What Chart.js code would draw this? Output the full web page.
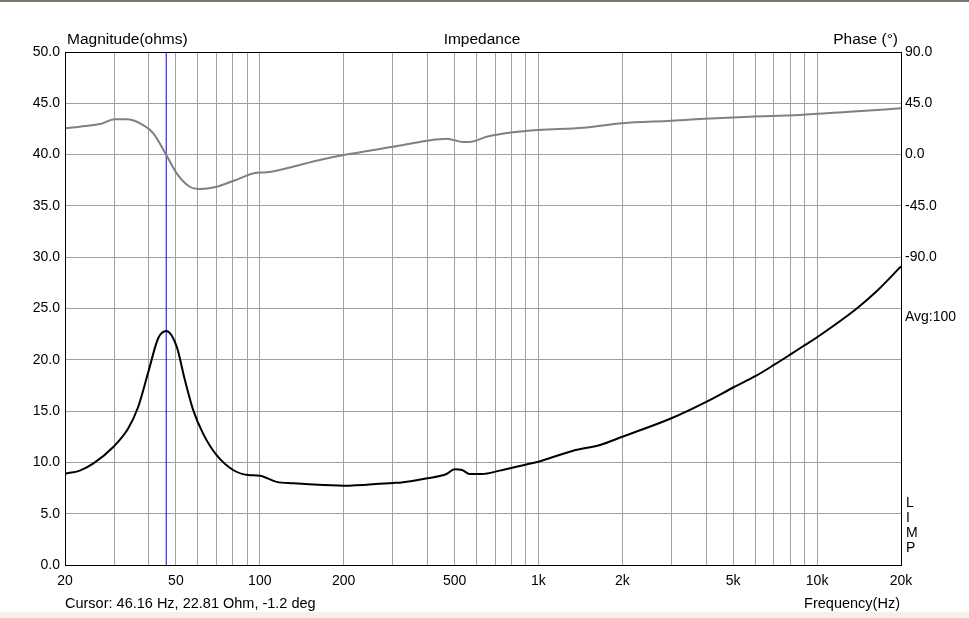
<!DOCTYPE html>
<html>
<head>
<meta charset="utf-8">
<script src="https://cdn.jsdelivr.net/npm/chart.js@4.4.1/dist/chart.umd.min.js"></script>
<style>
  html, body { margin: 0; padding: 0; background: #ffffff; }
  body { width: 969px; height: 618px; overflow: hidden; position: relative; }
  #top { position: absolute; left: 0; top: 0; width: 969px; height: 2px; background: #7a7a6a; }
  #bottom { position: absolute; left: 0; top: 612px; width: 969px; height: 6px; background: #f4f2e8; }
  #wrap { position: absolute; left: 0; top: 0; width: 969px; height: 612px; }
  canvas { display: block; }
</style>
</head>
<body>
<div id="wrap"><canvas id="chartImpedancia" width="969" height="612"></canvas></div>
<div id="top"></div>
<div id="bottom"></div>
<script>
// dados
const freqMag = [20, 22.6, 25.3, 29.8, 33.7, 36.6, 39.8, 43.2, 46.2, 50.3, 53.9, 57.7, 62.6, 70, 80.2, 90.7, 100, 115, 132, 150, 200, 301, 318, 400, 468, 500, 532, 566, 626, 726, 904, 1000, 1332, 1664, 2000, 3000, 4000, 5000, 6000, 7000, 8000, 9000, 10000, 13880, 16240, 20000]
const magnitude = [8.9, 9.2, 9.9, 11.5, 13.3, 15.4, 18.8, 22.1, 22.8, 21.3, 18.0, 15.1, 12.8, 10.7, 9.26, 8.77, 8.7, 8.1, 7.96, 7.86, 7.73, 8.0, 8.02, 8.45, 8.87, 9.33, 9.26, 8.87, 8.87, 9.2, 9.8, 10.07, 11.14, 11.7, 12.5, 14.3, 15.9, 17.3, 18.4, 19.5, 20.5, 21.4, 22.2, 25.0, 26.6, 29.1]

const freqFase = [20, 22.6, 26.7, 30.2, 33.3, 37.2, 41.5, 46.2, 50.3, 56.1, 61, 70, 80.2, 97.5, 106, 139, 164, 200, 301, 400, 468, 538, 566, 652, 811, 1000, 1446, 2000, 3000, 3780, 5740, 8660, 13100, 20000]
const fase = [23.1, 24.5, 26.8, 31, 31, 27.4, 18.7, -0.4, -16.4, -28.2, -30.2, -28.2, -23.2, -15.9, -15.5, -9.1, -4.7, -0.4, 6.9, 12.2, 13.9, 11.1, 11.1, 15.7, 19.6, 21.6, 23.6, 27.5, 29.7, 31.2, 33.2, 34.7, 37.6, 40.6]

const cursorFreq = 46.16
const gradeX = [20, 30, 40, 50, 60, 70, 80, 90, 100, 200, 300, 400, 500, 600, 700, 800, 900, 1000, 2000, 3000, 4000, 5000, 6000, 7000, 8000, 9000, 10000, 20000]
const rotulosX = {20: '20', 50: '50', 100: '100', 200: '200', 500: '500', 1000: '1k', 2000: '2k', 5000: '5k', 10000: '10k', 20000: '20k'}
const rotulosFase = [90, 45, 0, -45, -90]

const fonte = { family: 'Liberation Sans, Arial, sans-serif', size: 14 }

const textos = {
  id: 'textos',
  afterDraw(chart) {
    const c = chart.ctx
    const a = chart.chartArea
    c.save()
    // moldura
    c.strokeStyle = '#000000'
    c.lineWidth = 1
    c.strokeRect(a.left + 0.5, a.top + 0.5, a.right - a.left, a.bottom - a.top)
    c.fillStyle = '#000000'
    c.textBaseline = 'middle'
    c.font = '15.5px Liberation Sans, Arial, sans-serif'
    c.textAlign = 'left'
    c.fillText('Magnitude(ohms)', 67, 40)
    c.textAlign = 'center'
    c.fillText('Impedance', 482, 40)
    c.textAlign = 'right'
    c.fillText('Phase (°)', 898, 40)
    c.font = '14.5px Liberation Sans, Arial, sans-serif'
    c.fillText('Frequency(Hz)', 900, 604)
    c.textAlign = 'left'
    c.fillText('Cursor: 46.16 Hz, 22.81 Ohm, -1.2 deg', 65, 604)
    c.font = '14px Liberation Sans, Arial, sans-serif'
    c.fillText('Avg:100', 905, 317)
    const letras = ['L', 'I', 'M', 'P']
    const ys = [503, 518, 533, 548]
    for (let i = 0; i < letras.length; i++) {
      c.fillText(letras[i], 906, ys[i])
    }
    c.restore()
  }
}

const ctx = document.getElementById('chartImpedancia')
var chartImpedancia = new Chart(ctx, {
  type: 'line',
  data: {
    datasets: [
      {
        label: 'Phase',
        data: freqFase.map((f, i) => ({ x: f, y: fase[i] })),
        yAxisID: 'y2',
        borderColor: '#808080',
        borderWidth: 2,
        pointRadius: 0,
        cubicInterpolationMode: 'monotone'
      },
      {
        label: 'Magnitude',
        data: freqMag.map((f, i) => ({ x: f, y: magnitude[i] })),
        yAxisID: 'y',
        borderColor: '#000000',
        borderWidth: 2,
        pointRadius: 0,
        cubicInterpolationMode: 'monotone'
      },
      {
        label: 'Cursor',
        data: [{ x: cursorFreq, y: 0 }, { x: cursorFreq, y: 50 }],
        yAxisID: 'y',
        borderColor: '#0000ff',
        borderWidth: 1,
        pointRadius: 0
      }
    ]
  },
  options: {
    responsive: false,
    animation: false,
    devicePixelRatio: 1,
    layout: { padding: { top: 52, left: 0, right: 0, bottom: 0 } },
    plugins: { legend: { display: false }, tooltip: { enabled: false } },
    scales: {
      x: {
        type: 'logarithmic',
        min: 20,
        max: 20000,
        afterBuildTicks: (scale) => { scale.ticks = gradeX.map(v => ({ value: v })) },
        afterFit: (scale) => { scale.height = 47 },
        ticks: {
          autoSkip: false,
          maxRotation: 0,
          color: '#000000',
          font: fonte,
          padding: 8,
          callback: (v) => rotulosX[v] || ''
        },
        grid: { color: '#a0a0a0', drawTicks: false },
        border: { color: '#000000' }
      },
      y: {
        position: 'left',
        min: 0,
        max: 50,
        afterFit: (scale) => { scale.width = 65 },
        ticks: {
          stepSize: 5,
          color: '#000000',
          font: fonte,
          padding: 5,
          callback: (v) => v.toFixed(1)
        },
        grid: { color: '#a0a0a0', drawTicks: false },
        border: { color: '#000000' }
      },
      y2: {
        position: 'right',
        min: -360,
        max: 90,
        afterFit: (scale) => { scale.width = 68 },
        ticks: {
          stepSize: 45,
          color: '#000000',
          font: fonte,
          padding: 4,
          callback: (v) => rotulosFase.includes(v) ? v.toFixed(1) : ''
        },
        grid: { display: false, drawTicks: false },
        border: { color: '#000000' }
      }
    }
  },
  plugins: [textos]
})
</script>
</body>
</html>
